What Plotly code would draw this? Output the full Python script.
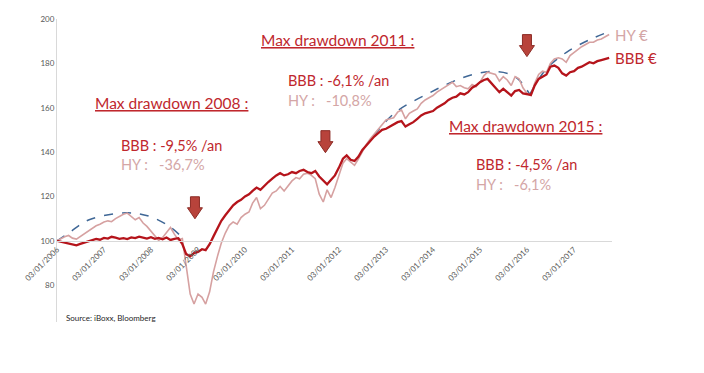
import plotly.graph_objects as go

# ---------------- data ----------------
years = list(range(2006, 2018))
dates = [f"{y}-{m:02d}-03" for y in years for m in range(1, 13)][:142]

bbb = [
    100.0, 99.6, 99.0, 98.7, 98.2, 98.0, 98.6, 99.2, 99.8, 100.3, 100.9, 100.5,
    101.3, 101.0, 101.8, 101.4, 100.9, 101.2, 100.8, 101.5, 101.2, 101.9, 101.4, 101.0,
    101.6, 100.9, 101.3, 100.7, 101.5, 100.4, 100.9, 101.2, 98.5, 94.0, 93.0, 94.5,
    95.0, 96.2, 95.8, 98.5, 102.0, 105.5, 109.0, 111.5, 114.0, 116.0, 117.5, 118.5,
    120.0, 121.0, 122.5, 124.0, 123.0, 125.0, 126.5, 128.0, 129.5, 130.5, 129.5, 130.0,
    131.0, 130.5, 131.5, 132.0, 131.0, 130.5, 131.5, 129.0, 127.0, 125.5, 127.5, 129.5,
    133.0, 137.0, 138.5, 136.5, 136.0, 138.0, 141.0, 143.0, 145.5, 147.0, 148.5, 150.0,
    150.5, 151.5, 152.5, 153.5, 154.0, 151.5, 152.5, 153.5, 155.0, 156.5, 157.5, 158.0,
    158.5, 160.0, 161.0, 162.0, 163.5, 164.5, 165.0, 166.5, 166.0, 167.0, 169.0, 170.0,
    171.5, 172.5, 173.0, 171.0, 169.0, 167.0, 168.5, 167.0, 165.5, 167.5, 168.0, 166.5,
    166.0, 165.8, 170.0, 173.0, 174.0, 175.0, 178.5, 179.0, 178.0, 175.5, 174.5, 176.0,
    176.5, 178.0, 178.5, 179.5, 180.5, 180.0, 181.0, 181.5, 182.0, 182.5,
]

hy = [
    100.0, 101.0, 101.8, 102.4, 101.2, 100.8, 102.0, 103.5, 104.5, 105.8, 106.8, 107.5,
    108.5, 109.0, 108.6, 110.0, 111.0, 112.0, 112.5, 111.0, 109.5, 110.5, 108.0, 106.5,
    104.5, 102.0, 100.2, 101.5, 104.0, 106.0, 103.0, 100.5, 101.0, 88.0, 76.0, 71.5,
    76.0, 74.5, 71.5, 77.0, 86.0, 93.0, 99.0, 103.5, 107.0, 108.5, 107.5, 110.5,
    112.0, 113.0, 117.0, 119.5, 114.5, 116.0, 119.0, 121.5, 122.5, 124.5, 122.5, 125.0,
    127.0, 128.5, 128.0, 130.0, 130.5, 129.5, 128.0, 121.0, 117.5, 123.0, 119.5, 124.0,
    129.5, 135.0, 137.0, 135.5, 134.0, 137.0, 140.5, 143.5, 146.0, 148.0, 150.0, 152.5,
    154.5, 155.0, 155.5, 158.0, 159.0, 155.0, 157.5, 158.5, 159.5, 162.0, 163.5, 164.5,
    165.5, 167.0, 168.0, 169.0, 170.0, 171.5, 169.5, 170.0, 169.0, 168.5, 170.5, 169.5,
    171.5, 174.5, 176.0, 175.5, 175.0, 172.0, 174.0, 172.5, 170.0, 174.0, 173.0, 169.0,
    166.5, 165.5, 171.0, 175.0, 176.5, 176.0, 180.0, 182.0, 182.5, 182.0, 180.5, 183.5,
    185.0, 186.5, 187.5, 188.5, 189.5, 189.5, 190.5, 191.0, 192.0, 193.0,
]

# drawdown envelopes (blue dashed arcs)
arc1_x = ["2006-01-03", "2006-04-15", "2006-09-10", "2007-07-01", "2007-12-25", "2008-05-25", "2008-08-25"]
arc1_y = [100.0, 104.0, 109.5, 112.6, 111.0, 106.5, 102.0]
arc2_x = ["2012-10-01", "2013-03-15", "2013-12-10", "2014-08-25", "2015-03-25", "2015-08-30", "2015-11-15", "2016-01-25"]
arc2_y = [147.5, 157.8, 166.8, 173.6, 176.3, 175.0, 171.8, 166.0]
arc3_x = ["2016-01-25", "2016-05-25", "2016-11-05", "2017-05-05", "2017-10-08"]
arc3_y = [166.0, 177.0, 185.0, 190.7, 194.4]

tick_vals = [f"{y}-01-03" for y in years]
tick_text = [f"03/01/{y}" for y in years]
y_ticks = [80, 100, 120, 140, 160, 180, 200]

arrow_x = ["2008-12-10", "2011-09-20", "2016-01-03"]
arrow_y = [114.9, 144.7, 188.0]

RED = "#c0272d"
BBB_C = "#b5141b"
HY_C = "#d6a1a1"
HY_TXT = "#d4a6a6"
BLUE = "#3f6796"
FONT = "Lato"

fig = go.Figure()
for ax_, ay_ in [(arc1_x, arc1_y), (arc2_x, arc2_y), (arc3_x, arc3_y)]:
    fig.add_trace(go.Scatter(x=ax_, y=ay_, mode="lines",
                             line=dict(color=BLUE, width=1.5, dash="dash", shape="spline"),
                             hoverinfo="skip", showlegend=False))
fig.add_trace(go.Scatter(x=dates, y=hy, mode="lines", name="HY €",
                         line=dict(color=HY_C, width=1.6), showlegend=False))
fig.add_trace(go.Scatter(x=dates, y=bbb, mode="lines", name="BBB €",
                         line=dict(color=BBB_C, width=2.3), showlegend=False))

ymin, ymax = 63.4, 200

# page body has an 8px default margin: figure is 696x365 so it fits the 704x373 window
fig.update_layout(
    width=696, height=365,
    margin=dict(l=49, r=92, t=11, b=51),
    paper_bgcolor="white", plot_bgcolor="white",
    font=dict(family=FONT, color="#595959"),
    xaxis=dict(
        type="date", range=["2006-01-03", "2017-10-25"],
        tickvals=tick_vals, ticktext=tick_text, tickangle=-45,
        tickfont=dict(size=8, color="#595959"),
        showgrid=False, zeroline=False, showline=True, linecolor="#d9d9d9", linewidth=1,
        anchor="free", position=(100 - ymin) / (ymax - ymin), ticks="",
        automargin=False,
    ),
    yaxis=dict(
        range=[ymin, ymax], tickvals=y_ticks, tickfont=dict(size=8, color="#595959"),
        showgrid=False, zeroline=False, showline=True, linecolor="#d9d9d9", linewidth=1,
        ticks="", automargin=False,
    ),
)

ann = []
def txt(x, y, text, color, size, under=False):
    f = dict(family=FONT, size=size, color=color)
    if under:
        f["lineposition"] = "under"
    ann.append(dict(x=x, y=y, xref="x", yref="y", text=text, showarrow=False,
                    xanchor="left", yanchor="middle", font=f))

TS, BS = 15.5, 14.5
txt("2006-10-08", 162.3, "Max drawdown 2008 :", RED, TS, True)
txt("2007-05-03", 142.9, "BBB : -9,5% /an", RED, BS)
txt("2007-05-03", 134.3, "HY :   -36,7%", HY_TXT, BS)
txt("2010-04-20", 190.7, "Max drawdown 2011 :", RED, TS, True)
txt("2010-11-14", 172.2, "BBB : -6,1% /an", RED, BS)
txt("2010-11-14", 163.2, "HY :   -10,8%", HY_TXT, BS)
txt("2014-04-20", 151.9, "Max drawdown 2015 :", RED, TS, True)
txt("2014-11-14", 134.3, "BBB : -4,5% /an", RED, BS)
txt("2014-11-14", 125.3, "HY :   -6,1%", HY_TXT, BS)

ann.append(dict(x=1, y=hy[-1], xref="paper", yref="y", text="HY €", showarrow=False,
                xanchor="left", yanchor="middle", xshift=1,
                font=dict(family=FONT, size=15, color=HY_TXT)))
ann.append(dict(x=1, y=bbb[-1], xref="paper", yref="y", text="BBB €", showarrow=False,
                xanchor="left", yanchor="middle", xshift=1,
                font=dict(family=FONT, size=15, color=RED)))
ann.append(dict(x=(64 - 57) / 555, y=-(318 - 322) / 303, xref="paper", yref="paper",
                text="Source: iBoxx, Bloomberg", showarrow=False, xanchor="left", yanchor="middle",
                font=dict(family=FONT, size=8, color="#262626")))
fig.update_layout(annotations=ann)

arrow_path = "M -4.5,11 L 4.5,11 L 4.5,0 L 7.5,0 L 0,-11 L -7.5,0 L -4.5,0 Z"
for x_, y_ in zip(arrow_x, arrow_y):
    fig.add_shape(type="path", xref="x", yref="y", xsizemode="pixel", ysizemode="pixel",
                  xanchor=x_, yanchor=y_, path=arrow_path,
                  fillcolor="#b8433b", line=dict(color="#8c2b25", width=1))

fig.write_html("out.html")
